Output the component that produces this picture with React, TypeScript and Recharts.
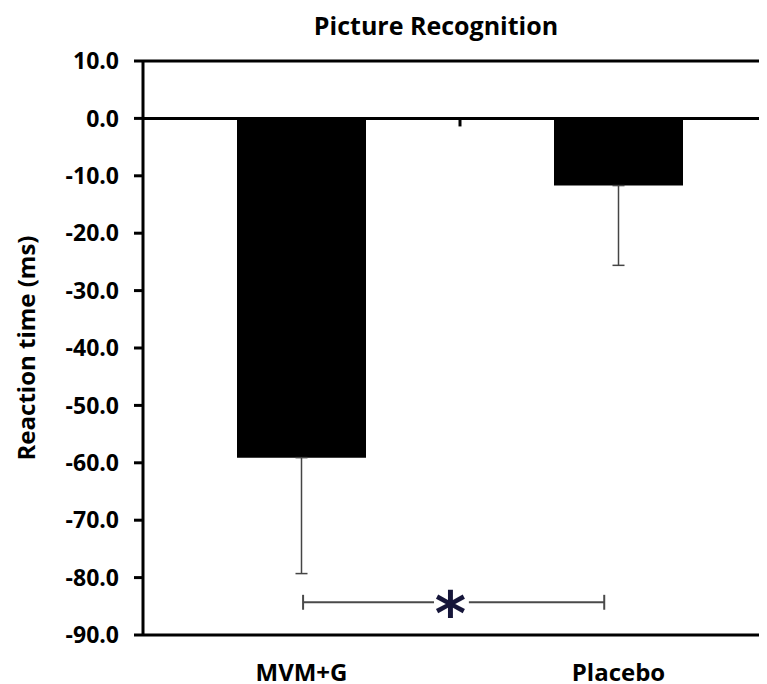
import { BarChart, Bar, XAxis, YAxis, ErrorBar, ReferenceLine, ReferenceDot } from "recharts";

const groups = ["MVM+G", "Placebo"];
const meanChange = [-59.1, -11.7];
const errorDown = [20.2, 13.9];
const yTicks = [10, 0, -10, -20, -30, -40, -50, -60, -70, -80, -90];

// significance bracket, x as a fraction of the plot width (0.5 = between groups)
const bracketY = -84.3;
const bracketEnds = [0.2525, 0.7275];
const bracketGap = [0.459, 0.514];
const starX = 0.485;

const data = groups.map((g, i) => ({
    group: g,
    value: meanChange[i],
    err: [errorDown[i], 0],
}));

const textStyle = {
    fontFamily: "'Open Sans', sans-serif",
    fontWeight: 700,
    fill: "#000",
};

const Star = (p: any) => (
    <text
        x={p.cx}
        y={p.cy + 33}
        textAnchor="middle"
        fontFamily="'DejaVu Sans', sans-serif"
        fontWeight={700}
        fontSize={60}
        fill="#16163a"
    >
        *
    </text>
);

const bracketColor = "#4a4a4a";

export default function App() {
    return (
        <div
            style={{
                position: "relative",
                width: 767,
                height: 684,
                marginLeft: -8,
                marginTop: -8,
                overflow: "hidden",
                background: "#fff",
            }}
        >
            <div
                style={{
                    position: "absolute",
                    left: 236,
                    width: 400,
                    top: 13,
                    textAlign: "center",
                    fontFamily: "'Open Sans', sans-serif",
                    fontWeight: 700,
                    fontSize: 25,
                    lineHeight: "25px",
                    color: "#000",
                }}
            >
                Picture Recognition
            </div>
            <BarChart
                width={780}
                height={684}
                data={data}
                margin={{ top: 61, right: 3, bottom: 0, left: 0 }}
            >
                <XAxis
                    dataKey="group"
                    height={49}
                    axisLine={{ stroke: "#000", strokeWidth: 3 }}
                    tickLine={false}
                    tickSize={0}
                    tickMargin={29}
                    tick={{ ...textStyle, fontSize: 24 }}
                />
                <XAxis
                    xAxisId="pos"
                    type="number"
                    domain={[0, 1]}
                    allowDataOverflow
                    hide
                />
                <YAxis
                    width={143}
                    domain={[-90, 10]}
                    ticks={yTicks}
                    interval={0}
                    tickFormatter={(v: number) => v.toFixed(1)}
                    axisLine={{ stroke: "#000", strokeWidth: 3 }}
                    tickLine={{ stroke: "#000", strokeWidth: 3 }}
                    tickSize={9}
                    tickMargin={15}
                    tick={{ ...textStyle, fontSize: 23 }}
                    label={{
                        value: "Reaction time (ms)",
                        angle: -90,
                        position: "insideLeft",
                        offset: 26,
                        style: { ...textStyle, fontSize: 24, textAnchor: "middle" },
                    }}
                />
                <ReferenceLine y={10} stroke="#000" strokeWidth={3} />
                <Bar dataKey="value" fill="#000" barSize={129} isAnimationActive={false}>
                    <ErrorBar
                        dataKey="err"
                        direction="y"
                        width={6}
                        stroke="#454545"
                        strokeWidth={1.5}
                        isAnimationActive={false}
                    />
                </Bar>
                <ReferenceLine y={0} stroke="#000" strokeWidth={3} />
                <ReferenceLine
                    xAxisId="pos"
                    segment={[{ x: 0.5, y: 0 }, { x: 0.5, y: -1.4 }]}
                    stroke="#000"
                    strokeWidth={3}
                />
                <ReferenceLine
                    xAxisId="pos"
                    segment={[{ x: bracketEnds[0], y: bracketY }, { x: bracketGap[0], y: bracketY }]}
                    stroke={bracketColor}
                    strokeWidth={2}
                />
                <ReferenceLine
                    xAxisId="pos"
                    segment={[{ x: bracketGap[1], y: bracketY }, { x: bracketEnds[1], y: bracketY }]}
                    stroke={bracketColor}
                    strokeWidth={2}
                />
                {bracketEnds.map((x) => (
                    <ReferenceLine
                        key={x}
                        xAxisId="pos"
                        segment={[{ x, y: bracketY + 1.3 }, { x, y: bracketY - 1.3 }]}
                        stroke={bracketColor}
                        strokeWidth={2}
                    />
                ))}
                <ReferenceDot xAxisId="pos" x={starX} y={bracketY} r={0} shape={Star} />
            </BarChart>
        </div>
    );
}
